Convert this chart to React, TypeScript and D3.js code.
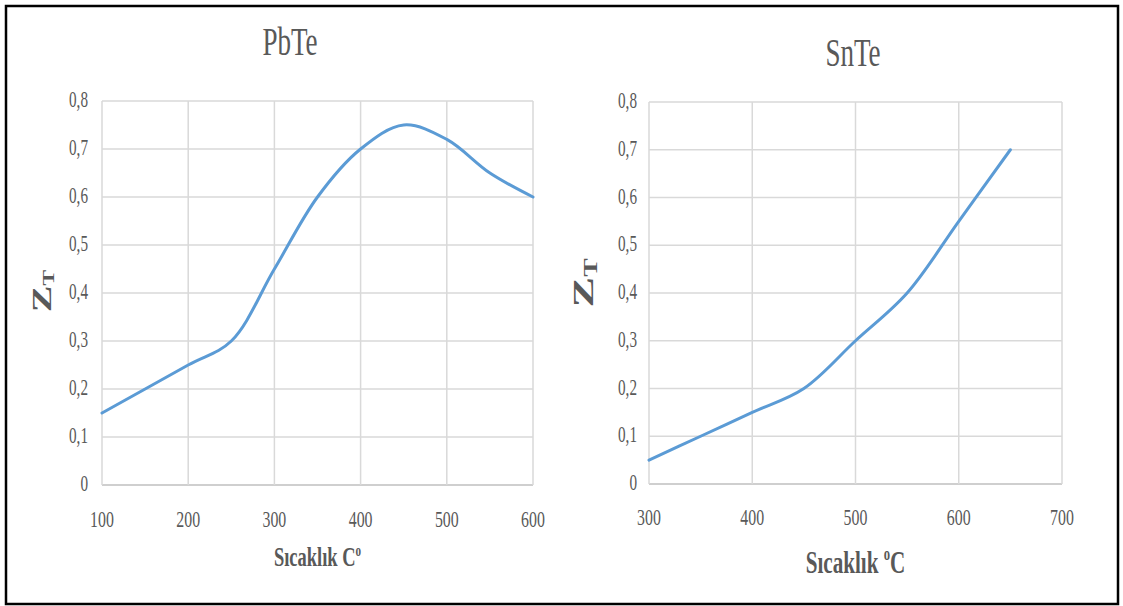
import React from "react";
import * as d3 from "d3";

const pbteTemp = [100, 200, 250, 300, 350, 400, 450, 500, 550, 600];
const pbteZT = [0.15, 0.25, 0.3, 0.45, 0.6, 0.7, 0.75, 0.72, 0.65, 0.6];
const snteTemp = [300, 350, 400, 450, 500, 550, 600, 650];
const snteZT = [0.05, 0.1, 0.15, 0.2, 0.3, 0.4, 0.55, 0.7];
const yTicks = [0, 0.1, 0.2, 0.3, 0.4, 0.5, 0.6, 0.7, 0.8];
const pbteXTicks = [100, 200, 300, 400, 500, 600];
const snteXTicks = [300, 400, 500, 600, 700];

const SX = 0.66;
const GRAY = "#595959";
const FONT = "'Liberation Serif', 'Times New Roman', serif";

function T({ x, y, size, anchor = "middle", bold = false, rot = 0, children, baseline = "auto" }: any) {
  return (
    <text
      transform={`translate(${x},${y}) scale(${SX},1)${rot ? ` rotate(${rot})` : ""}`}
      fontSize={size}
      fontFamily={FONT}
      fontWeight={bold ? "bold" : "normal"}
      fill={GRAY}
      textAnchor={anchor}
      dominantBaseline={baseline}
    >
      {children}
    </text>
  );
}

function Chart({ temps, vals, xTicks, x0, x1, y0, y1, title, titleX, titleY, titleSize, yLabelX, yLabelY, zSize, xTitle, xTitleY, xTitleSize, tickYRight, xTickY, sup }: any) {
  const x = d3.scaleLinear().domain([xTicks[0], xTicks[xTicks.length - 1]]).range([x0, x1]);
  const y = d3.scaleLinear().domain([0, 0.8]).range([y0, y1]);
  const line = d3
    .line<number>()
    .x((_, i) => x(temps[i]))
    .y((d) => y(d))
    .curve(d3.curveCatmullRom.alpha(0.5));
  return (
    <g>
      {yTicks.map((t) => (
        <line key={"h" + t} x1={x0} x2={x1} y1={y(t)} y2={y(t)} stroke={t === 0 ? "#bfbfbf" : "#d9d9d9"} strokeWidth={1.5} />
      ))}
      {xTicks.map((t: number) => (
        <line key={"v" + t} x1={x(t)} x2={x(t)} y1={y(0)} y2={y(0.8)} stroke="#d9d9d9" strokeWidth={1.5} />
      ))}
      <path d={line(vals) || ""} fill="none" stroke="#5B9BD5" strokeWidth={3} strokeLinecap="round" />
      {yTicks.map((t) => (
        <T key={"yl" + t} x={tickYRight} y={y(t) + 6} size={23} anchor="end">
          {String(t).replace(".", ",")}
        </T>
      ))}
      {xTicks.map((t: number) => (
        <T key={"xl" + t} x={x(t)} y={xTickY} size={24}>
          {t}
        </T>
      ))}
      <T x={titleX} y={titleY} size={titleSize}>
        {title}
      </T>
      <T x={yLabelX} y={yLabelY} size={zSize} bold rot={-90}>
        Z<tspan fontSize={zSize * 0.6} dy={zSize * 0.12}>T</tspan>
      </T>
      <T x={(x0 + x1) / 2} y={xTitleY} size={xTitleSize} bold>
        {sup === "after" ? (
          <>
            Sıcaklık C<tspan fontSize={xTitleSize * 0.6} dy={-xTitleSize * 0.35}>o</tspan>
          </>
        ) : (
          <>
            Sıcaklık <tspan fontSize={xTitleSize * 0.6} dy={-xTitleSize * 0.4}>o</tspan>
            <tspan dy={xTitleSize * 0.4}>C</tspan>
          </>
        )}
      </T>
    </g>
  );
}

export default function App() {
  return (
    <svg width={1123} height={606} style={{ position: "absolute", left: 0, top: 0, background: "#fff" }}>
      <rect x={0} y={0} width={1123} height={606} fill="#fff" />
      <rect x={6} y={6} width={1112} height={598} fill="none" stroke="#000" strokeWidth={2.5} />
      <Chart
        temps={pbteTemp}
        vals={pbteZT}
        xTicks={pbteXTicks}
        x0={102}
        x1={533}
        y0={485}
        y1={101}
        title="PbTe"
        titleX={290}
        titleY={55}
        titleSize={41}
        yLabelX={51}
        yLabelY={291}
        zSize={40}
        xTitle=""
        xTitleY={566}
        xTitleSize={28}
        tickYRight={88}
        xTickY={527}
        sup="after"
      />
      <Chart
        temps={snteTemp}
        vals={snteZT}
        xTicks={snteXTicks}
        x0={649}
        x1={1062}
        y0={484}
        y1={102}
        title="SnTe"
        titleX={853}
        titleY={66}
        titleSize={41}
        yLabelX={593}
        yLabelY={283}
        zSize={46}
        xTitle=""
        xTitleY={573}
        xTitleSize={32}
        tickYRight={637}
        xTickY={525}
        sup="before"
      />
    </svg>
  );
}
